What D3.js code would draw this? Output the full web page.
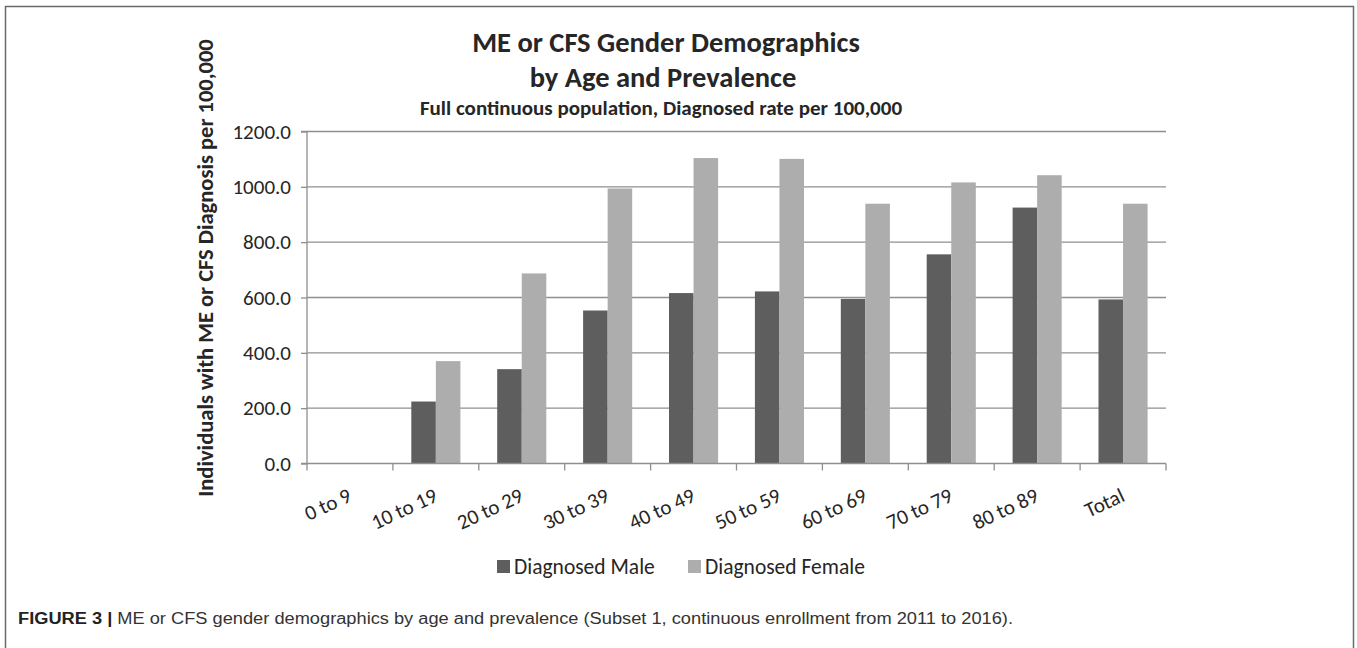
<!DOCTYPE html>
<html>
<head>
<meta charset="utf-8">
<script src="https://cdn.jsdelivr.net/npm/d3@7"></script>
<style>
  html, body { margin: 0; padding: 0; background: #fff; }
  svg { display: block; }
  .chart-text { font-family: Carlito, Lato, "Open Sans", sans-serif; fill: #262626; }
  .caption { font-family: "Liberation Sans", Arial, sans-serif; fill: #333; }
</style>
</head>
<body>
<div id="chart"></div>
<script>
// values (rate per 100,000)
const categories = ["0 to 9", "10 to 19", "20 to 29", "30 to 39", "40 to 49",
                    "50 to 59", "60 to 69", "70 to 79", "80 to 89", "Total"];
const seriesNames = ["Diagnosed Male", "Diagnosed Female"];
const maleValues = [0, 224, 341, 553, 616, 622, 595, 756, 925, 593];
const femaleValues = [0, 370, 687, 994, 1104, 1101, 939, 1016, 1042, 939];
const yTicks = [0, 200, 400, 600, 800, 1000, 1200];
const colors = ["#5e5e5e", "#adadad"];

const W = 1357, H = 648;
const plot = {left: 307, right: 1166, top: 131.5, bottom: 463.5};

const svg = d3.select("#chart").append("svg")
    .attr("width", W).attr("height", H);

// figure frame (no bottom edge visible)
svg.append("path")
    .attr("d", `M5.5,${H + 5}V6.5H1353.5V${H + 5}`)
    .attr("fill", "none")
    .attr("stroke", "#6a6a6a")
    .attr("stroke-width", 1.5);

const x = d3.scaleBand().domain(categories).range([plot.left, plot.right]);
const xSub = d3.scaleBand().domain(seriesNames).range([0, x.bandwidth()]).paddingOuter(0.75);
const y = d3.scaleLinear().domain([0, 1200]).range([plot.bottom, plot.top]);

// gridlines
svg.append("g")
    .selectAll("line")
    .data(yTicks.filter(d => d > 0))
    .join("line")
    .attr("x1", plot.left).attr("x2", plot.right)
    .attr("y1", d => y(d)).attr("y2", d => y(d))
    .attr("stroke", "#8f8f8f").attr("stroke-width", 1.3);

// bars
const rows = categories.map((c, i) => ({cat: c, vals: [maleValues[i], femaleValues[i]]}));
const groups = svg.append("g").selectAll("g")
    .data(rows)
    .join("g")
    .attr("transform", d => `translate(${x(d.cat)},0)`);
groups.selectAll("rect")
    .data(d => d.vals.map((v, j) => ({name: seriesNames[j], v: v, j: j})))
    .join("rect")
    .attr("x", d => xSub(d.name))
    .attr("width", xSub.bandwidth())
    .attr("y", d => y(d.v))
    .attr("height", d => y(0) - y(d.v))
    .attr("fill", d => colors[d.j]);

// y axis
const yAxis = svg.append("g")
    .attr("transform", `translate(${plot.left},0)`)
    .call(d3.axisLeft(y).tickValues(yTicks).tickFormat(d3.format(".1f")).tickSize(6).tickPadding(10));
yAxis.selectAll("path, line").attr("stroke", "#8f8f8f").attr("stroke-width", 1.3);
yAxis.select(".domain").attr("d", `M-6,${plot.bottom}H0V${plot.top}H-6`);
yAxis.attr("font-family", null).attr("font-size", null);
yAxis.selectAll("text")
    .attr("class", "chart-text")
    .style("font-size", "21px")
    .attr("fill", "#333");

// x axis: ticks between categories
const xAxisG = svg.append("g").attr("transform", `translate(0,${plot.bottom})`);
xAxisG.append("line")
    .attr("x1", plot.left).attr("x2", plot.right)
    .attr("stroke", "#8f8f8f").attr("stroke-width", 1.3);
xAxisG.selectAll("line.tick")
    .data(categories.concat(["end"]))
    .join("line")
    .attr("class", "tick")
    .attr("x1", (d, i) => i < categories.length ? x(d) : plot.right)
    .attr("x2", (d, i) => i < categories.length ? x(d) : plot.right)
    .attr("y1", 0).attr("y2", 7)
    .attr("stroke", "#8f8f8f").attr("stroke-width", 1.3);
xAxisG.selectAll("text")
    .data(categories)
    .join("text")
    .attr("class", "chart-text")
    .attr("text-anchor", "end")
    .attr("transform", d => `translate(${x(d) + x.bandwidth() / 2 + 3},37) rotate(-25)`)
    .style("font-size", "21px")
    .attr("fill", "#333")
    .text(d => d);

// titles
const titleX = 666;
svg.append("text").attr("class", "chart-text")
    .attr("x", titleX).attr("y", 52).attr("text-anchor", "middle")
    .style("font-size", "28.5px").style("font-weight", "bold").attr("fill", "#111")
    .text("ME or CFS Gender Demographics");
svg.append("text").attr("class", "chart-text")
    .attr("x", titleX - 3).attr("y", 86.5).attr("text-anchor", "middle")
    .style("font-size", "28.5px").style("font-weight", "bold").attr("fill", "#111")
    .text("by Age and Prevalence");
svg.append("text").attr("class", "chart-text")
    .attr("x", titleX - 5).attr("y", 115).attr("text-anchor", "middle")
    .style("font-size", "21px").style("font-weight", "bold").attr("fill", "#111")
    .text("Full continuous population, Diagnosed rate per 100,000");

// y axis title
svg.append("text").attr("class", "chart-text")
    .attr("transform", `translate(213,268) rotate(-90)`)
    .attr("text-anchor", "middle")
    .style("font-size", "22.5px").style("font-weight", "bold").attr("fill", "#111")
    .text("Individuals with ME or CFS Diagnosis per 100,000");

// legend
const legend = svg.append("g").selectAll("g")
    .data(seriesNames)
    .join("g")
    .attr("transform", (d, i) => `translate(${[497, 688][i]},560)`);
legend.append("rect")
    .attr("width", 13).attr("height", 13)
    .attr("fill", (d, i) => colors[i]);
legend.append("text").attr("class", "chart-text")
    .attr("x", 17).attr("y", 13.5)
    .style("font-size", "21.5px").attr("fill", "#333")
    .text(d => d);

// caption
const cap = svg.append("text").attr("class", "caption")
    .attr("x", 18).attr("y", 624)
    .attr("textLength", 995).attr("lengthAdjust", "spacingAndGlyphs")
    .style("font-size", "16px");
cap.append("tspan").style("font-weight", "bold").attr("fill", "#222").text("FIGURE 3 | ");
cap.append("tspan").text("ME or CFS gender demographics by age and prevalence (Subset 1, continuous enrollment from 2011 to 2016).");
</script>
</body>
</html>
